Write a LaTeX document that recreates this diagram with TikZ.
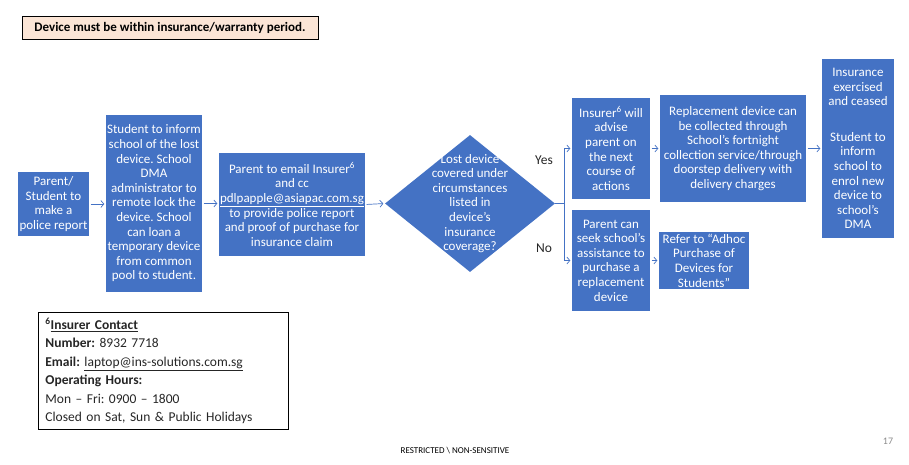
\documentclass[tikz,border=0pt]{standalone}
\usepackage{fontspec}
\setmainfont{Carlito}
\usetikzlibrary{shapes.geometric,arrows.meta}
\definecolor{boxblue}{HTML}{4472C4}
\definecolor{notepeach}{HTML}{FBE5D6}
\definecolor{pagegrey}{HTML}{8C8C8C}
\frenchspacing

\begin{document}
\begin{tikzpicture}[x=1pt,y=-1pt,
    stepbox/.style={fill=boxblue,text=white,align=center,inner sep=0pt,font=\fontsize{13}{14.6}\selectfont},
    decision/.style={diamond,fill=boxblue,minimum width=170pt,minimum height=137pt,inner sep=0pt},
    flow/.style={draw=boxblue,line width=0.7pt,-{Straight Barb[length=3pt,width=7pt]},shorten >=1.5pt,shorten <=1.5pt}]

    % Pagina
    \useasboundingbox (0,0) rectangle (909,464);

    % Nota in alto
    \node[draw=black,line width=0.8pt,fill=notepeach,minimum width=296pt,minimum height=23pt,inner sep=0pt,
          font=\fontsize{13}{15}\selectfont\bfseries] (note) at (170,27.5)
          {Device must be within insurance/warranty period.};

    % Blocchi del flusso principale
    \node[stepbox,minimum width=71pt,minimum height=64pt] (parent) at (53.5,204)
          {Parent/\\Student to\\make a\\police report};
    \node[stepbox,minimum width=96pt,minimum height=177pt] (inform) at (154,203.5)
          {Student to inform\\school of the lost\\device. School\\DMA\\administrator to\\remote lock the\\device. School\\can loan a\\temporary device\\from common\\pool to student.};
    \node[stepbox,minimum width=146pt,minimum height=103pt] (email) at (292,204.5)
          {Parent to email Insurer\textsuperscript{6}\\and cc\\\underline{pdlpapple@asiapac.com.sg}\\to provide police report\\and proof of purchase for\\insurance claim};

    % Decisione
    \node[decision] (covered) at (470,203.5) {};
    \node[stepbox,fill=none] (coveredtext) at (covered.center)
          {Lost device\\covered under\\circumstances\\listed in\\device’s\\insurance\\coverage?};

    % Ramo Yes / No
    \node[stepbox,minimum width=78pt,minimum height=101pt] (advise) at (611,148.5)
          {Insurer\textsuperscript{6} will\\advise\\parent on\\the next\\course of\\actions};
    \node[stepbox,minimum width=78pt,minimum height=101pt] (seek) at (611,260.5)
          {Parent can\\seek school’s\\assistance to\\purchase a\\replacement\\device};
    \node[stepbox,minimum width=146pt,minimum height=107pt] (collect) at (733,148.5)
          {Replacement device can\\be collected through\\School’s fortnight\\collection service/through\\doorstep delivery with\\delivery charges};
    \node[stepbox,minimum width=72pt,minimum height=179pt] (ceased) at (858,148.5)
          {Insurance\\exercised\\and ceased\\[21pt]Student to\\inform\\school to\\enrol new\\device to\\school’s\\DMA};
    \node[stepbox,minimum width=90pt,minimum height=57pt] (adhoc) at (704,260.5)
          {Refer to “Adhoc\\Purchase of\\Devices for\\Students”};

    \node[font=\fontsize{13.5}{16}\selectfont,text=black!85] (yes) at (544,160) {Yes};
    \node[font=\fontsize{13.5}{16}\selectfont,text=black!85] (no) at (544,248) {No};

    % Frecce
    \draw[flow] (parent.east) -- (inform.west|-parent.east);
    \draw[flow] (inform.east) -- (email.west|-inform.east);
    \draw[flow] (email.east) -- (covered.west);
    \coordinate (split) at (564,203.5);
    \draw[boxblue,line width=0.7pt] (covered.east) -- (split);
    \draw[flow,shorten <=0pt] (split) |- (advise.west);
    \draw[flow,shorten <=0pt] (split) |- (seek.west);
    \draw[flow] (advise.east) -- (collect.west|-advise.east);
    \draw[flow] (collect.east) -- (ceased.west|-collect.east);
    \draw[flow] (seek.east) -- (adhoc.west|-seek.east);

    % Contatti assicuratore
    \node[draw=black,line width=0.8pt,anchor=north west,text width=236pt,minimum height=117pt,
          inner xsep=7pt,inner ysep=3pt,align=left,text=black!85,font=\fontsize{13.5}{18.5}\selectfont] (contact) at (38,312)
          {\textbf{\textsuperscript{6}\underline{Insurer Contact}}\\
           \textbf{Number:} 8932 7718\\
           \textbf{Email:} \underline{laptop@ins-solutions.com.sg}\\
           \textbf{Operating Hours:}\\
           Mon – Fri: 0900 – 1800\\
           Closed on Sat, Sun \& Public Holidays};

    % Pie di pagina
    \node[font=\fontsize{9}{10}\selectfont] (footer) at (455,451) {RESTRICTED \textbackslash{} NON-SENSITIVE};
    \node[font=\fontsize{10}{12}\selectfont,text=pagegrey] (pagenum) at (888,441) {17};

\end{tikzpicture}
\end{document}
